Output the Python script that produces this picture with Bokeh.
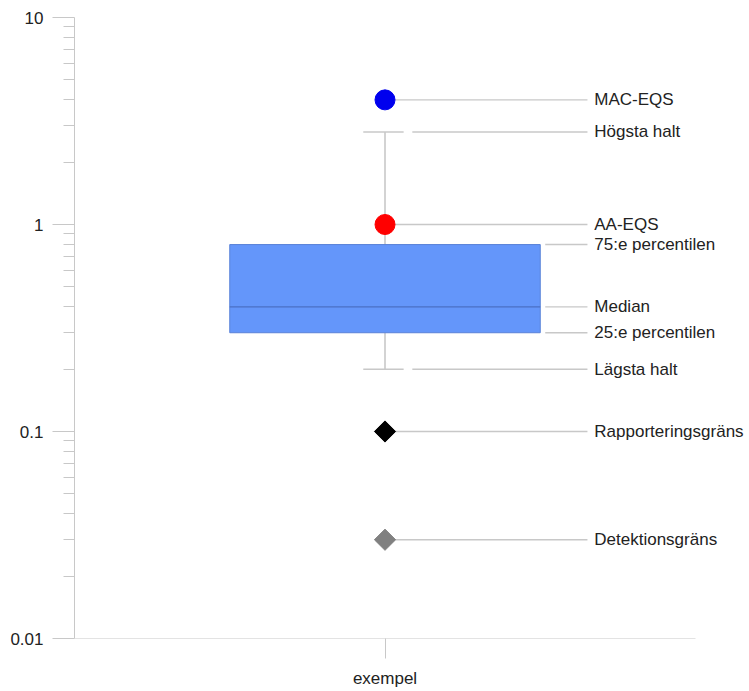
import math
from bokeh.plotting import figure
from bokeh.models import Range1d, FixedTicker, CustomJSTickFormatter, ColumnDataSource
from bokeh.core.properties import value
from bokeh.embed import file_html
from bokeh.resources import INLINE

# ---- data ----
categories = ["exempel"]
mac_eqs = [4.0]
hogsta_halt = [2.8]
aa_eqs = [1.0]
q3 = [0.8]
median = [0.4]
q1 = [0.3]
lagsta_halt = [0.2]
rapporteringsgrans = [0.1]
detektionsgrans = [0.03]

label_names = ["MAC-EQS", "Högsta halt", "AA-EQS", "75:e percentilen", "Median",
               "25:e percentilen", "Lägsta halt", "Rapporteringsgräns", "Detektionsgräns"]
label_values = [mac_eqs[0], hogsta_halt[0], aa_eqs[0], q3[0], median[0],
                q1[0], lagsta_halt[0], rapporteringsgrans[0], detektionsgrans[0]]

y_major = [0.01, 0.1, 1, 10]
y_minor = [k * d for d in (0.01, 0.1, 1) for k in range(2, 10)]

# ---- layout constants ----
xc = 0.5                 # category position
box_l, box_r = 0.25, 0.75
cap_l, cap_r = 0.465, 0.53
conn_end = 0.826
label_x = 0.837
FONT = "Liberation Sans"
TXT = "#222222"
GRAY = "#c8c8c8"

p = figure(width=745, height=690, y_axis_type="log",
           x_range=Range1d(0, 1.0805), y_range=Range1d(0.01, 10),
           output_backend="svg", toolbar_location=None,
           min_border_left=74, min_border_top=17, min_border_bottom=52, min_border_right=0)
p.outline_line_color = None
p.xgrid.visible = False
p.ygrid.visible = False

# axes
p.yaxis.ticker = FixedTicker(ticks=y_major, minor_ticks=y_minor)
p.yaxis.formatter = CustomJSTickFormatter(code="return tick.toString();")
p.yaxis.axis_line_color = GRAY
p.yaxis.major_tick_line_color = GRAY
p.yaxis.minor_tick_line_color = GRAY
p.yaxis.major_tick_out = 22
p.yaxis.major_tick_in = 0
p.yaxis.minor_tick_out = 11
p.yaxis.minor_tick_in = 0
p.yaxis.major_label_standoff = 9
p.yaxis.major_label_text_font = FONT
p.yaxis.major_label_text_font_size = "17px"
p.yaxis.major_label_text_color = TXT

p.xaxis.ticker = FixedTicker(ticks=[xc])
p.xaxis.major_label_overrides = {xc: categories[0]}
p.xaxis.axis_line_color = None
p.xaxis.major_tick_line_color = GRAY
p.xaxis.major_tick_out = 20
p.xaxis.major_tick_in = 0
p.xaxis.minor_tick_line_color = None
p.xaxis.major_label_standoff = 10
p.xaxis.major_label_text_font = FONT
p.xaxis.major_label_text_font_size = "17px"
p.xaxis.major_label_text_color = TXT

# x baseline (only up to x=1)
p.segment(x0=[0], y0=[y_major[0]], x1=[1], y1=[y_major[0]], line_color=GRAY, line_width=1.2)

# whiskers
p.segment(x0=[xc, xc], y0=[q3[0], q1[0]], x1=[xc, xc], y1=[hogsta_halt[0], lagsta_halt[0]],
          line_color=GRAY, line_width=1.6)
p.segment(x0=[cap_l, cap_l], y0=[hogsta_halt[0], lagsta_halt[0]],
          x1=[cap_r, cap_r], y1=[hogsta_halt[0], lagsta_halt[0]],
          line_color=GRAY, line_width=1.6)

# connector lines
conn_start = [xc, 0.544, xc, 0.758, 0.758, 0.758, 0.544, xc, xc]
p.segment(x0=conn_start, y0=label_values, x1=[conn_end] * len(label_values), y1=label_values,
          line_color=GRAY, line_width=1.4)

# box
p.quad(left=[box_l], right=[box_r], bottom=q1, top=q3,
       fill_color="#6496fa", line_color="#5a82d8", line_width=1)
p.segment(x0=[box_l], y0=median, x1=[box_r], y1=median, line_color="#4a6fc4", line_width=1.4)

# markers
p.scatter(x=[xc], y=mac_eqs, size=20, marker="circle", fill_color="#0000ee", line_color="#0000ee")
p.scatter(x=[xc], y=aa_eqs, size=20, marker="circle", fill_color="#ff0000", line_color="#ff0000")
p.scatter(x=[xc], y=rapporteringsgrans, size=15, marker="square", angle=math.pi / 4,
          fill_color="#000000", line_color="#000000")
p.scatter(x=[xc], y=detektionsgrans, size=15, marker="square", angle=math.pi / 4,
          fill_color="#808080", line_color="#808080")

# labels
src = ColumnDataSource(dict(x=[label_x] * len(label_names), y=label_values, t=label_names))
p.text(x="x", y="y", text="t", source=src, text_font=value(FONT), text_font_size="17px",
       text_color=TXT, text_align="left", text_baseline="middle")

open("out.html", "w").write(file_html(p, INLINE))
